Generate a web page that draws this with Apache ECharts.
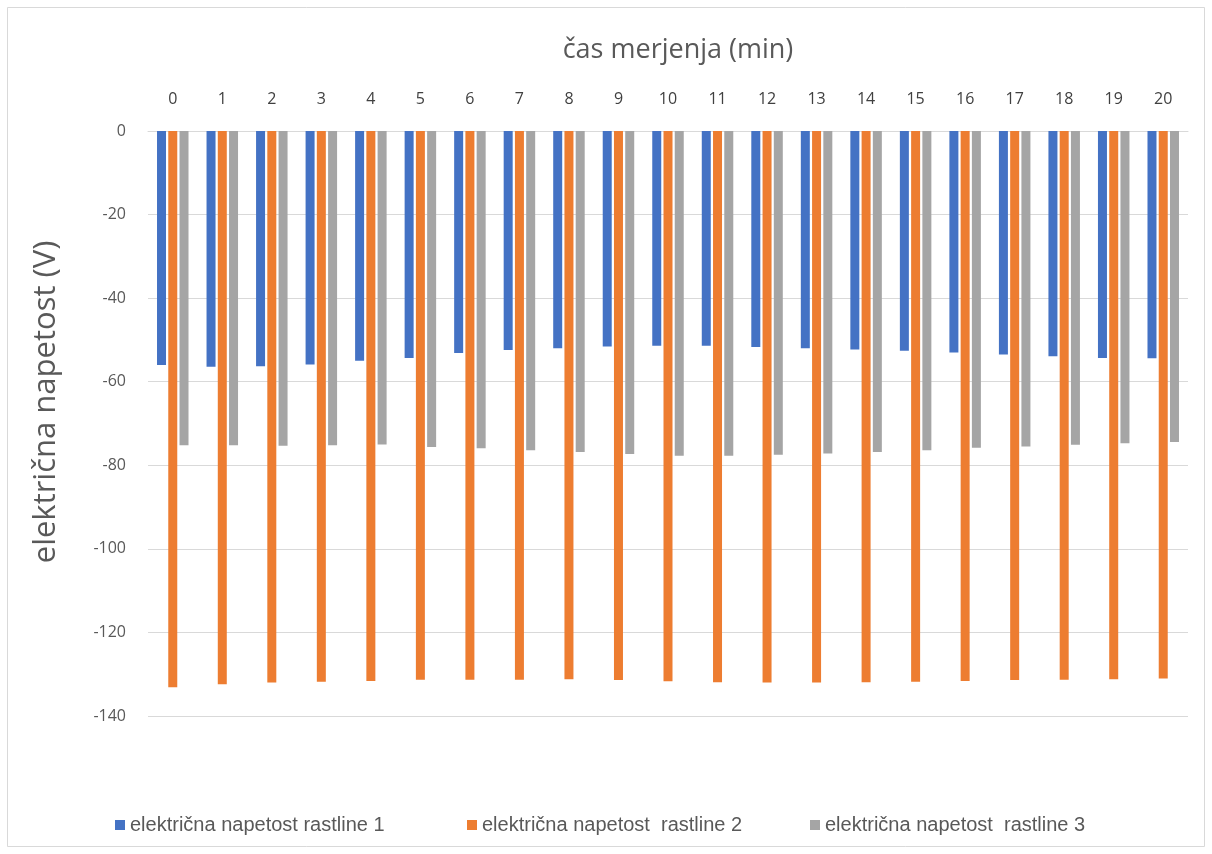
<!DOCTYPE html>
<html>
<head>
<meta charset="utf-8">
<script src="https://cdn.jsdelivr.net/npm/echarts@6/dist/echarts.min.js"></script>
<style>
  html, body { margin: 0; padding: 0; background: #fff; }
  #chart { width: 1212px; height: 854px; }
</style>
</head>
<body>
<div id="chart"></div>
<script>
// measurement times (minutes)
const minutes = ['0','1','2','3','4','5','6','7','8','9','10','11','12','13','14','15','16','17','18','19','20'];

// voltage per plant (V)
const plant1 = [-56.0,-56.4,-56.3,-55.9,-55.0,-54.3,-53.1,-52.4,-52.0,-51.6,-51.4,-51.4,-51.7,-52.0,-52.3,-52.6,-53.0,-53.5,-53.9,-54.3,-54.4];
const plant2 = [-133.1,-132.4,-132.0,-131.8,-131.6,-131.3,-131.3,-131.3,-131.2,-131.4,-131.7,-131.9,-132.0,-132.0,-131.9,-131.8,-131.6,-131.4,-131.3,-131.2,-131.0];
const plant3 = [-75.2,-75.2,-75.3,-75.2,-75.0,-75.6,-75.9,-76.4,-76.8,-77.3,-77.7,-77.7,-77.5,-77.2,-76.8,-76.4,-75.8,-75.5,-75.1,-74.7,-74.4];

const seriesNames = ['električna napetost rastline 1', 'električna napetost  rastline 2', 'električna napetost  rastline 3'];
const colors = ['#4472C4', '#ED7D31', '#A5A5A5'];

const legendFont = '"Liberation Sans", "DejaVu Sans", sans-serif';
const axisFont = '"Open Sans", "Liberation Sans", sans-serif';
const textColor = '#595959';

const chart = echarts.init(document.getElementById('chart'), null, { renderer: 'canvas' });

const mkSeries = (name, data, color) => ({
  name: name,
  type: 'bar',
  data: data,
  barWidth: 9,
  barGap: '25%',
  itemStyle: { color: color },
  emphasis: { disabled: true }
});

// one legend entry per component so each can sit at its own spot
const legendLefts = [110, 462, 805];
const legends = seriesNames.map((n, i) => ({
  left: legendLefts[i],
  bottom: 14,
  itemWidth: 10,
  itemHeight: 10,
  itemGap: 5,
  icon: 'rect',
  textStyle: { color: textColor, fontSize: 20, fontFamily: legendFont },
  data: [n]
}));

chart.setOption({
  animation: false,
  backgroundColor: '#fff',
  color: colors,
  grid: { left: 148, right: 24, top: 131, bottom: 138, containLabel: false },
  graphic: [
    {
      type: 'rect',
      shape: { x: 7.5, y: 7.5, width: 1197, height: 839 },
      style: { fill: 'none', stroke: '#d9d9d9', lineWidth: 1 },
      silent: true
    },
    {
      type: 'text',
      x: 678, y: 50,
      style: {
        text: 'čas merjenja (min)',
        fill: textColor,
        font: '27px ' + axisFont,
        textAlign: 'center',
        textVerticalAlign: 'middle'
      }
    },
    {
      type: 'text',
      x: 46, y: 402,
      rotation: Math.PI / 2,
      style: {
        text: 'električna napetost (V)',
        fill: textColor,
        font: '31px ' + axisFont,
        textAlign: 'center',
        textVerticalAlign: 'middle'
      }
    }
  ],
  legend: legends,
  xAxis: {
    type: 'category',
    position: 'top',
    data: minutes,
    axisLine: { show: true, lineStyle: { color: '#d9d9d9', width: 1 } },
    axisTick: { show: false },
    axisLabel: {
      color: '#404040',
      fontSize: 16,
      fontFamily: axisFont,
      margin: 24
    },
    splitLine: { show: false }
  },
  yAxis: {
    type: 'value',
    min: -140,
    max: 0,
    interval: 20,
    axisLine: { show: false },
    axisTick: { show: false },
    axisLabel: {
      color: textColor,
      fontSize: 16,
      fontFamily: axisFont,
      margin: 22
    },
    splitLine: { show: true, lineStyle: { color: '#d9d9d9', width: 1 } }
  },
  series: [
    mkSeries(seriesNames[0], plant1, colors[0]),
    mkSeries(seriesNames[1], plant2, colors[1]),
    mkSeries(seriesNames[2], plant3, colors[2])
  ]
});
</script>
</body>
</html>
